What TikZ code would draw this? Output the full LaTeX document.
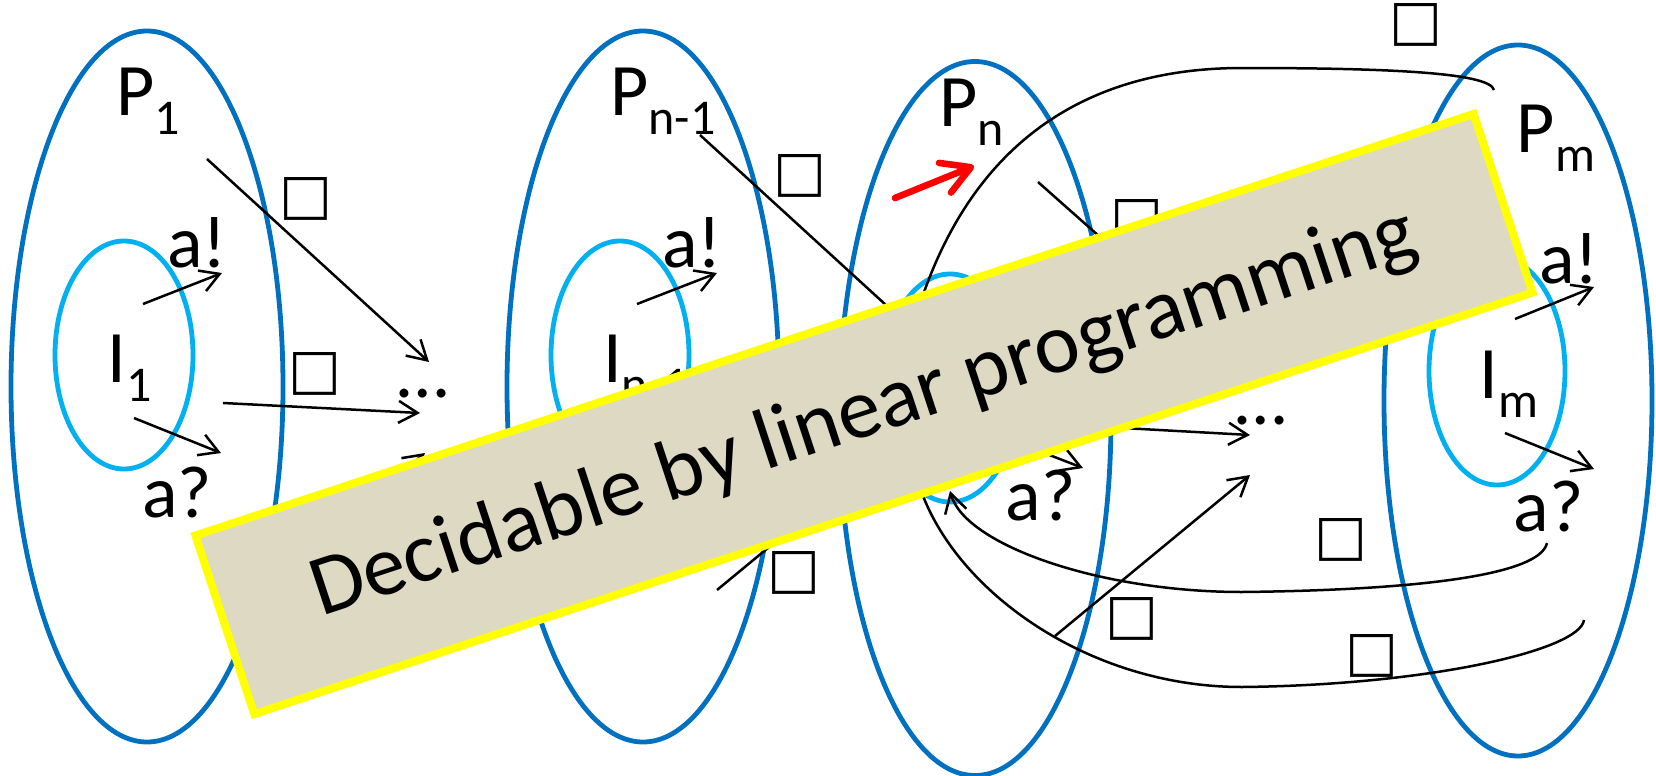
\documentclass[tikz,border=0pt]{standalone}
\usepackage{fontspec}
\setmainfont{Carlito}
\newfontfamily\symf{DejaVu Sans}
\usepackage{tikz}
\usetikzlibrary{arrows.meta,shapes.geometric}
\definecolor{procc}{HTML}{0070C0}
\definecolor{initc}{HTML}{00B0F0}
\definecolor{bandc}{HTML}{DDD9C3}
\definecolor{rimc}{HTML}{FFFF00}
\definecolor{hotc}{HTML}{FF0000}
\newcommand\sub[1]{\raisebox{-9.5pt}{\fontsize{25}{30}\selectfont #1}}
\tikzset{
  proc/.style={ellipse,draw=procc,line width=2.4pt,inner sep=0pt,minimum width=136pt,minimum height=355.5pt},
  init/.style={ellipse,draw=initc,line width=2.4pt,inner sep=0pt,minimum width=69pt,minimum height=114pt},
  lbl/.style={anchor=base,inner sep=0pt,font=\fontsize{37}{44}\selectfont},
  bx/.style={inner sep=0pt,font=\symf\fontsize{28}{30}\selectfont},
  ar/.style={-{Straight Barb[length=9.5pt,width=11pt]},line width=1.25pt},
  ln/.style={line width=1.25pt},
  hot/.style={-{Straight Barb[length=14pt,width=16pt,round]},line width=3.3pt,line cap=round,hotc},
  band/.style={draw=rimc,fill=bandc,line width=4pt,inner sep=0pt,minimum width=673pt,minimum height=94pt,rotate=18.25,font=\fontsize{43}{50}\selectfont}
}
\begin{document}
\begin{tikzpicture}[x=0.5pt,y=-0.5pt]
\useasboundingbox (0,0) rectangle (1656,776);
\node[proc] (P1) at (147,386.5) {};
\node[proc] (Pn1) at (643,386.5) {};
\node[proc,minimum height=357pt] (Pn) at (975,418.5) {};
\node[proc,minimum width=134pt] (Pm) at (1518,400.5) {};
\node[init] (I1) at (124,355) {};
\node[init] (In1) at (620,355) {};
\node[init] (In) at (950,388) {};
\node[init,minimum width=68pt] (Im) at (1497,371) {};
\node[lbl] (tP1) at (148.5,115) {P\sub{1}};
\node[lbl] (tPn1) at (663,115) {P\sub{n-1}};
\node[lbl] (tPn) at (971.5,126) {P\sub{n}};
\node[lbl] (tPm) at (1556,152) {P\sub{m}};
\node[lbl] (tI1) at (129.5,382) {I\sub{1}};
\node[lbl] (tIn1) at (646,382) {I\sub{n-1}};
\node[lbl] (tIm) at (1509,398) {I\sub{m}};
\node[lbl] (snd1) at (197,267) {a!};
\node[lbl] (snd2) at (692,267) {a!};
\node[lbl] (snd3) at (1569,283) {a!};
\node[lbl] (rcv1) at (177,517) {a?};
\node[lbl] (rcv2) at (1040.5,520) {a?};
\node[lbl] (rcv3) at (1548.5,531) {a?};
\node[lbl] (dots1) at (423.5,397) {…};
\node[lbl] (dots2) at (1261,424) {…};
\node[bx] (b1) at (306,199) {□};
\node[bx] (b2) at (315,374) {□};
\node[bx] (b3) at (800,176) {□};
\node[bx] (b4) at (794,573) {□};
\node[bx] (b5) at (1137,221) {□};
\node[bx] (b6) at (1132,619) {□};
\node[bx] (b7) at (1416,25) {□};
\node[bx] (b8) at (1341,540) {□};
\node[bx] (b9) at (1372,656) {□};
\coordinate (u1) at (207,159); \coordinate (v1) at (429,362);
\coordinate (u2) at (223,403); \coordinate (v2) at (420,413);
\coordinate (u3) at (143,304); \coordinate (v3) at (222,273);
\coordinate (u4) at (134,418); \coordinate (v4) at (221,453);
\coordinate (u5) at (229,614); \coordinate (v5) at (425,453);
\coordinate (u6) at (700,135); \coordinate (v6) at (922,338);
\coordinate (u7) at (637,304); \coordinate (v7) at (717,273);
\coordinate (u8) at (717,590); \coordinate (v8) at (912,429);
\coordinate (u9) at (1038,182); \coordinate (v9) at (1250,370);
\coordinate (u10) at (1050,424); \coordinate (v10) at (1250,435);
\coordinate (u11) at (1055,636); \coordinate (v11) at (1250,475);
\coordinate (u12) at (990,432); \coordinate (v12) at (1083,468);
\coordinate (u13) at (1515,319); \coordinate (v13) at (1594,287);
\coordinate (u14) at (1505,433); \coordinate (v14) at (1594,469);
\coordinate (u15) at (895,198); \coordinate (v15) at (974,166);
\foreach \i in {1,...,14}{\draw[ar] (u\i) -- (v\i);}
\draw[hot] (u15) -- (v15);
\coordinate (c1) at (1494,90); \coordinate (c2) at (1547,543); \coordinate (c3) at (1584,620);
\coordinate (e1) at (918,310); \coordinate (e2) at (950,491); \coordinate (e3) at (915,470);
\draw[ln] (c1) .. controls (1490,72) and (1380,68) .. (1242,68) .. controls (1100,68) and (975,130) .. (e1);
\draw[ar] (c2) .. controls (1540,575) and (1420,590) .. (1242,592) .. controls (1100,592) and (965,545) .. (e2);
\draw[ln] (c3) .. controls (1580,650) and (1430,685) .. (1242,687) .. controls (1080,687) and (940,580) .. (e3);
\node[band] (lp) at (864,414) {Decidable by linear programming};
\end{tikzpicture}
\end{document}
